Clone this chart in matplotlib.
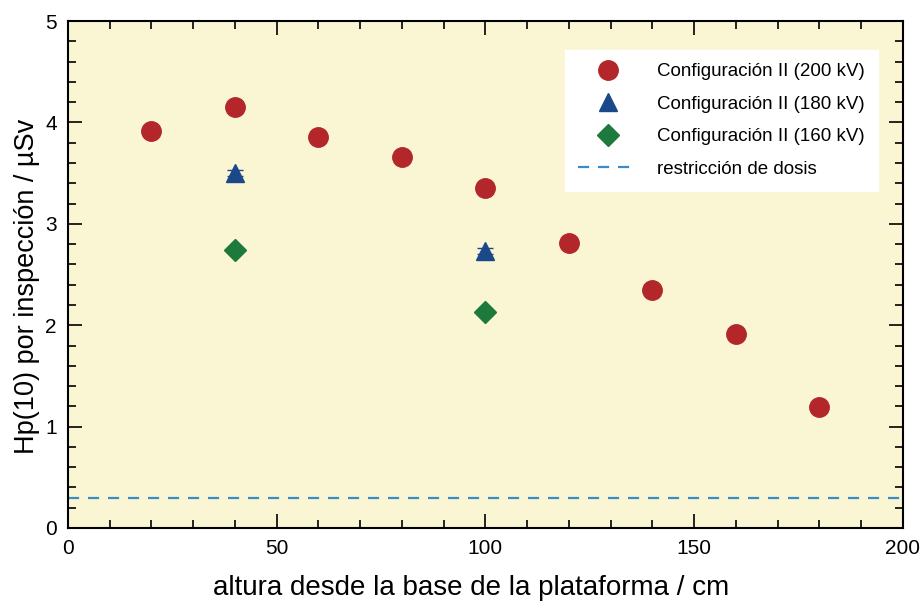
import numpy as np
import matplotlib
matplotlib.use('Agg')
import matplotlib.pyplot as plt
from matplotlib.ticker import MultipleLocator

plt.rcParams['font.family'] = ['Liberation Sans', 'DejaVu Sans']

# altura (cm) y Hp(10) por inspeccion (uSv)
x_200 = [20, 40, 60, 80, 100, 120, 140, 160, 180]
y_200 = [3.92, 4.15, 3.86, 3.66, 3.35, 2.81, 2.35, 1.91, 1.19]

x_180 = [40, 100]
y_180 = [3.50, 2.73]
err_180 = [0.03, 0.03]

x_160 = [40, 100]
y_160 = [2.74, 2.13]

dose_limit = 0.3

fig = plt.figure(figsize=(9.24, 6.03), dpi=100)
ax = fig.add_axes([0.0736, 0.1244, 0.9034, 0.8406])
ax.set_facecolor('#faf6d4')

h1, = ax.plot(x_200, y_200, 'o', color='#b3262a', markersize=14,
              label='Configuración II (200 kV)')
ax.errorbar(x_180, y_180, yerr=err_180, fmt='none', ecolor='#1b4889',
            capsize=6, elinewidth=1)
h2, = ax.plot(x_180, y_180, '^', color='#1b4889', markersize=13,
              label='Configuración II (180 kV)')
h3, = ax.plot(x_160, y_160, 'D', color='#1d7a3c', markersize=11,
              label='Configuración II (160 kV)')
h4 = ax.axhline(dose_limit, color='#3a8cc8', linestyle=(0, (5, 4)), linewidth=1.6,
                label='restricción de dosis')

ax.set_xlim(0, 200)
ax.set_ylim(0, 5)
ax.xaxis.set_major_locator(MultipleLocator(50))
ax.xaxis.set_minor_locator(MultipleLocator(10))
ax.yaxis.set_major_locator(MultipleLocator(1))
ax.yaxis.set_minor_locator(MultipleLocator(0.2))
ax.tick_params(which='both', direction='in', top=True, right=True,
               width=1.2, labelsize=15, pad=8)
ax.tick_params(which='major', length=10)
ax.tick_params(which='minor', length=6)
for s in ax.spines.values():
    s.set_linewidth(1.5)

ax.set_xlabel('altura desde la base de la plataforma / cm', fontsize=20)
ax.set_ylabel('Hp(10) por inspección / µSv', fontsize=19.5)
ax.xaxis.set_label_coords(0.483, -0.092)
ax.yaxis.set_label_coords(-0.034, 0.477)

leg = ax.legend(handles=[h1, h2, h3, h4], loc='upper right', fontsize=13.5,
                frameon=True, fancybox=False, edgecolor='white', framealpha=1,
                borderpad=0.7, labelspacing=0.82, handlelength=3.2,
                handletextpad=1.0, borderaxespad=0,
                bbox_to_anchor=(0.97, 0.943))

fig.savefig('out.png', dpi=100)
